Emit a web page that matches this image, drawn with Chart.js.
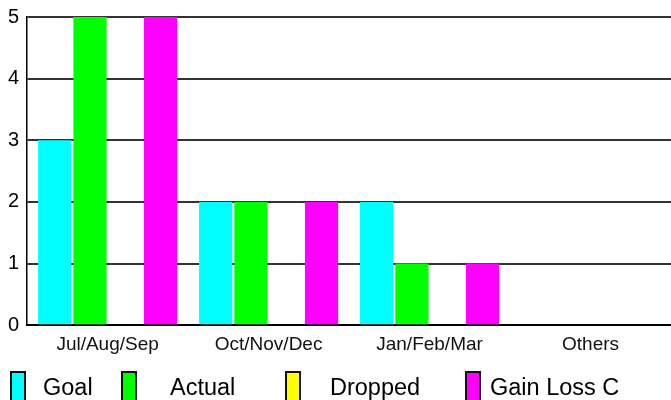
<!DOCTYPE html>
<html>
<head>
<meta charset="utf-8">
<script src="https://cdn.jsdelivr.net/npm/chart.js@4/dist/chart.umd.min.js"></script>
<style>
  html,body{margin:0;padding:0;background:#fff;}
  #wrap{width:671px;height:400px;position:relative;}
</style>
</head>
<body>
<div id="wrap"><canvas id="c"></canvas></div>
<script>
// categories and series
const quarters=['Jul/Aug/Sep','Oct/Nov/Dec','Jan/Feb/Mar','Others'];
const goal=[3,2,2,0];
const actual=[5,2,1,0];
const dropped=[0,0,0,0];
const gainLoss=[5,2,1,0];
const yTicks=[0,1,2,3,4,5];

// legend drawn at fixed columns under the plot
const legendBoxX=[11,122,286,466];
const legendTextX=[43,170,330,490];

const bottomLegend={
  id:'bottomLegend',
  afterDraw(chart){
    const ctx=chart.ctx;
    ctx.save();
    ctx.font='23.5px "Liberation Sans", Arial, sans-serif';
    ctx.textBaseline='alphabetic';
    chart.data.datasets.forEach((ds,i)=>{
      const x=legendBoxX[i];
      ctx.fillStyle=ds.backgroundColor;
      ctx.fillRect(x,372,14,32);
      ctx.lineWidth=2;
      ctx.strokeStyle='#111';
      ctx.strokeRect(x,372,14,32);
      ctx.fillStyle='#000';
      ctx.fillText(ds.label,legendTextX[i],395);
    });
    ctx.restore();
  }
};

new Chart(document.getElementById('c'),{
  type:'bar',
  data:{
    labels:quarters,
    datasets:[
      {label:'Goal',data:goal,backgroundColor:'#00ffff'},
      {label:'Actual',data:actual,backgroundColor:'#00ff00'},
      {label:'Dropped',data:dropped,backgroundColor:'#ffff00'},
      {label:'Gain Loss C',data:gainLoss,backgroundColor:'#ff00ff'}
    ]
  },
  options:{
    responsive:true,
    maintainAspectRatio:false,
    animation:false,
    devicePixelRatio:1,
    layout:{padding:{top:0,right:0,bottom:44,left:0}},
    datasets:{bar:{categoryPercentage:0.877,barPercentage:0.94,borderWidth:0}},
    plugins:{legend:{display:false},tooltip:{enabled:false}},
    scales:{
      x:{
        grid:{display:false},
        border:{color:'#000',width:2},
        ticks:{color:'#111',padding:0,font:{family:'"Liberation Sans", Arial, sans-serif',size:19}}
      },
      y:{
        min:0,max:5,
        afterBuildTicks(axis){axis.ticks=yTicks.map(v=>({value:v}));},
        grid:{color:'#333',lineWidth:2,drawTicks:false},
        border:{color:'#000',width:1.5},
        ticks:{color:'#000',padding:8,font:{family:'"Liberation Sans", Arial, sans-serif',size:20,lineHeight:0.9}}
      }
    }
  },
  plugins:[bottomLegend]
});
</script>
</body>
</html>
